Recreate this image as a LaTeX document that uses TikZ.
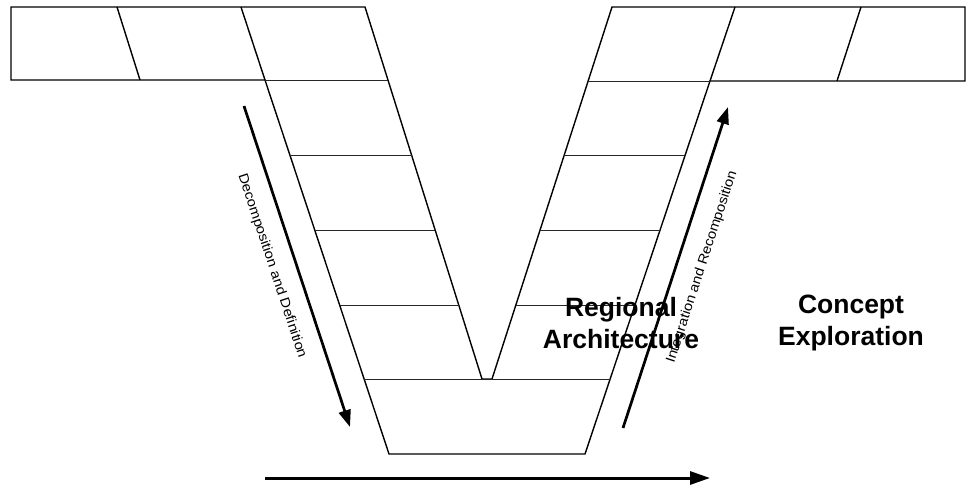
\documentclass[tikz,border=0pt]{standalone}
\usepackage{fontspec}
\setmainfont{Liberation Sans}
\usetikzlibrary{arrows.meta}
\begin{document}
\begin{tikzpicture}[x=1pt,y=-1pt,line join=miter]
\tikzset{
  frame/.style={line width=1.4pt},
  rung/.style={line width=1pt,black!85},
  flow/.style={line width=2.7pt,-{Triangle[length=17pt,width=12pt]}},
  baseflow/.style={line width=3pt,-{Triangle[length=20pt,width=13pt]}},
  big/.style={font=\fontsize{26.5}{32}\selectfont\bfseries,align=center,inner sep=0pt},
  side/.style={font=\fontsize{13.5}{15}\selectfont,inner sep=0pt}
}
\useasboundingbox (0,0) rectangle (966,487);
% outline of the V with its two bands
\draw[frame] (11,7) -- (365,7) -- (482,379) -- (492,379) -- (612,7) -- (965,7)
  -- (965,81) -- (710,81) -- (585,454) -- (389,454) -- (265,80) -- (11,80) -- cycle;
% band dividers
\draw[frame] (117,7) -- (140,80);
\draw[frame] (241,7) -- (265,80);
\draw[frame] (735,7) -- (710,81);
\draw[frame] (861,7) -- (837,81);
% rungs of the left arm
\draw[rung] (265.2,80) -- (388,80);
\draw[rung] (290,155) -- (411.5,155);
\draw[rung] (314.8,230) -- (435.1,230);
\draw[rung] (339.6,305) -- (458.7,305);
\draw[rung] (364.1,379) -- (610.2,379);
% rungs of the right arm
\draw[rung] (588.1,81) -- (710.2,81);
\draw[rung] (564.3,155) -- (685.3,155);
\draw[rung] (540.1,230) -- (660.2,230);
\draw[rung] (515.9,305) -- (635,305);
% arrows
\coordinate (d1) at (244,106);
\coordinate (d2) at (350,427);
\coordinate (u1) at (623,428);
\coordinate (u2) at (728,107);
\coordinate (b1) at (265,478);
\coordinate (b2) at (710,478);
\draw[flow] (d1) -- (d2);
\draw[flow] (u1) -- (u2);
\draw[baseflow] (b1) -- (b2);
% labels
\node[side,rotate=-71.7] (dec) at (272,266) {\scalebox{1.1}[1]{Decomposition and Definition}};
\node[side,rotate=71.9] (intg) at (702,267) {\scalebox{1.1}[1]{Integration and Recomposition}};
\node[big] (reg) at (621,323.3) {Regional\\Architecture};
\node[big] (con) at (851,323.3) {Concept\\Exploration};
\end{tikzpicture}
\end{document}
